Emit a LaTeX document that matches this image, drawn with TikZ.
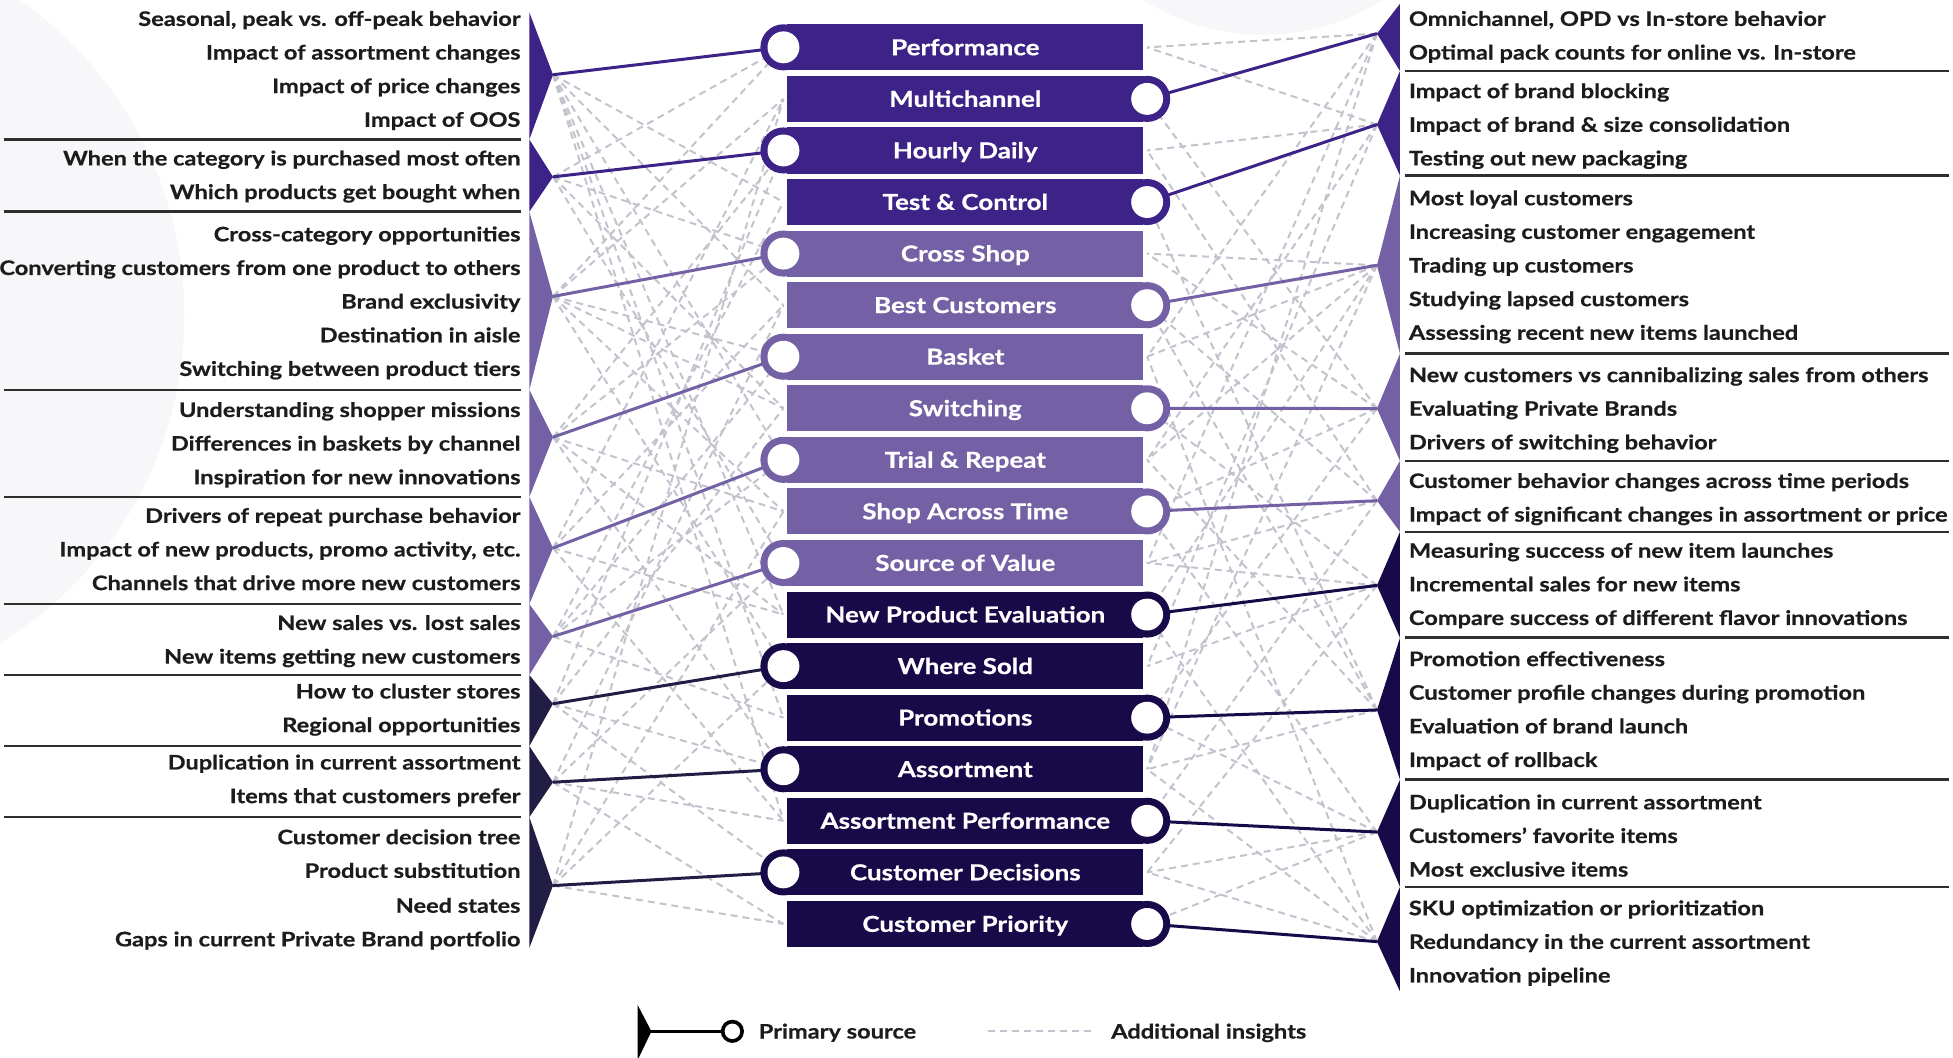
\documentclass[tikz,border=0pt]{standalone}
\usepackage{fontspec}
\setmainfont{Lato}[FakeStretch=1.18,BoldFeatures={FakeBold=0.6}]
\begin{document}
\begin{tikzpicture}[x=1.2455pt,y=-1.2455pt,
  lefttxt/.style={anchor=east,inner sep=0pt,text=txt,font=\fontsize{20}{24}\selectfont\bfseries,text height=14.4pt,text depth=0pt},
  righttxt/.style={anchor=west,inner sep=0pt,text=txt,font=\fontsize{20}{24}\selectfont\bfseries,text height=14.4pt,text depth=0pt},
  boxlabel/.style={inner sep=0pt,text=white,font=\fontsize{22}{26}\selectfont\bfseries,text height=15.8pt,text depth=0pt},
  sepline/.style={draw=sepc,line width=2.5pt},
  extra/.style={draw=dashc,line width=2pt,dash pattern=on 7pt off 5pt},
  prim/.style={draw=#1,line width=3pt},
]
\definecolor{cA}{HTML}{3D2287}
\definecolor{cB}{HTML}{7461A5}
\definecolor{cC}{HTML}{180A48}
\definecolor{cL}{HTML}{221D45}
\definecolor{txt}{HTML}{1C1C1C}
\definecolor{sepc}{HTML}{2E2E2E}
\definecolor{dashc}{HTML}{C2C3CD}
\definecolor{bgc}{HTML}{F7F7FA}

\useasboundingbox (0,0) rectangle (1568,849);

% faint backdrop discs
\begin{scope}
  \clip (0,0) rectangle (1568,849);
  \fill[bgc] (-160,253) circle (308);
  \fill[bgc] (1014,-151) circle (179);
\end{scope}

% anchor points on both sides of each analysis bar
\foreach \i in {1,...,18}{
  \pgfmathsetmacro\yy{38+(\i-1)*41.4}
  \coordinate (lc\i) at (629,\yy);
  \coordinate (rc\i) at (921,\yy);
}

% bracket tips
\foreach \k/\ty in {1/60,2/142,3/238,4/351,5/440,6/511,7/565,8/628,9/711}
  \coordinate (lt\k) at (444,\ty);
\foreach \k/\ty in {1/27,2/100,3/213,4/328,5/402,6/470,7/570,8/668,9/756}
  \coordinate (rt\k) at (1105.5,\ty);

% left-hand question lists
\foreach \y/\t in {15/{Seasonal, peak vs. off-peak behavior},42/Impact of assortment changes,69/Impact of price changes,96/Impact of OOS,
  127/When the category is purchased most often,154/Which products get bought when,
  188/Cross-category opportunities,215/Converting customers from one product to others,242/Brand exclusivity,269/Destination in aisle,296/Switching between product tiers,
  329/Understanding shopper missions,356/Differences in baskets by channel,383/Inspiration for new innovations,
  414/Drivers of repeat purchase behavior,441/{Impact of new products, promo activity, etc.},468/Channels that drive more new customers,
  500/New sales vs. lost sales,527/New items getting new customers,
  555/How to cluster stores,582/Regional opportunities,
  612/Duplication in current assortment,639/Items that customers prefer,
  672/Customer decision tree,699/Product substitution,727/Need states,754/Gaps in current Private Brand portfolio}
  \node[lefttxt] at (418,\y) {\t};
\foreach \y in {112,170,313,399,485,542,599,656}
  \draw[sepline] (3,\y) -- (418,\y);

% right-hand question lists
\foreach \y/\t in {15/{Omnichannel, OPD vs In-store behavior},42/Optimal pack counts for online vs. In-store,
  73/Impact of brand blocking,100/Impact of brand \& size consolidation,127/Testing out new packaging,
  159/Most loyal customers,186/Increasing customer engagement,213/Trading up customers,240/Studying lapsed customers,267/Assessing recent new items launched,
  301/New customers vs cannibalizing sales from others,328/Evaluating Private Brands,355/Drivers of switching behavior,
  386/Customer behavior changes across time periods,413/Impact of significant changes in assortment or price,
  442/Measuring success of new item launches,469/Incremental sales for new items,496/Compare success of different flavor innovations,
  529/Promotion effectiveness,556/Customer profile changes during promotion,583/Evaluation of brand launch,610/Impact of rollback,
  644/Duplication in current assortment,671/Customers’ favorite items,698/Most exclusive items,
  729/SKU optimization or prioritization,756/Redundancy in the current assortment,783/Innovation pipeline}
  \node[righttxt] at (1131,\y) {\t};
\foreach \y in {57,141,284,370,427,512,626,712}
  \draw[sepline] (1128,\y) -- (1565,\y);

% additional insight links
\foreach \k/\r in {1/4,1/6,1/9,1/12,1/14,1/16,
  2/1,2/5,2/8,2/11,
  3/1,3/2,3/7,3/8,3/10,3/13,
  4/3,4/5,4/10,4/12,4/15,
  5/2,5/6,5/12,5/16,
  6/4,6/7,6/9,6/14,
  7/3,7/8,7/15,7/17,
  8/6,8/11,8/16,8/18,
  9/2,9/10,9/13,9/18}
  \draw[extra] (lt\k) -- (lc\r);
\foreach \k/\r in {1/1,1/7,1/11,1/15,
  2/1,2/3,2/9,2/13,
  3/5,3/7,3/9,3/12,3/15,
  4/2,4/5,4/10,4/14,
  5/3,5/6,5/11,5/16,
  6/8,6/11,6/13,6/17,
  7/4,7/6,7/9,7/15,
  8/10,8/14,8/17,8/18,
  9/7,9/12,9/15,9/17}
  \draw[extra] (rt\k) -- (rc\r);

% primary source links
\foreach \k/\r/\c in {1/1/cA,2/3/cA,3/5/cB,4/7/cB,5/9/cB,6/11/cB,7/13/cL,8/15/cL,9/17/cL}
  \draw[prim=\c] (lt\k) -- (lc\r);
\foreach \k/\r/\c in {1/2/cA,2/4/cA,3/6/cB,4/8/cB,5/10/cB,6/12/cC,7/14/cC,8/16/cC,9/18/cC}
  \draw[prim=\c] (rt\k) -- (rc\r);

% brackets
\foreach \k/\a/\b/\c in {1/10/112/cA,2/112/170/cA,3/170/313/cB,4/313/399/cB,5/399/485/cB,6/485/542/cB,7/542/599/cL,8/599/656/cL,9/656/761/cL}
  \fill[\c] (425,\a) -- (lt\k) -- (425,\b) -- cycle;
\foreach \k/\a/\b/\c in {1/3/57/cA,2/57/141/cA,3/141/284/cB,4/284/370/cB,5/370/427/cB,6/427/512/cC,7/512/626/cC,8/626/712/cC,9/712/796/cC}
  \fill[\c] (1124,\a) -- (rt\k) -- (1124,\b) -- cycle;

% analysis bars
\foreach \i/\lab/\c in {1/Performance/cA,2/Multichannel/cA,3/Hourly Daily/cA,4/Test \& Control/cA,
  5/Cross Shop/cB,6/Best Customers/cB,7/Basket/cB,8/Switching/cB,9/Trial \& Repeat/cB,10/Shop Across Time/cB,11/Source of Value/cB,
  12/New Product Evaluation/cC,13/Where Sold/cC,14/Promotions/cC,15/Assortment/cC,16/Assortment Performance/cC,17/Customer Decisions/cC,18/Customer Priority/cC}{
  \pgfmathsetmacro\yy{38+(\i-1)*41.4}
  \pgfmathtruncatemacro\odd{mod(\i,2)}
  \ifnum\odd=1 \def\cx{629}\else\def\cx{921}\fi
  \fill[\c] (632,\yy-18.5) rectangle (918,\yy+18.5);
  \fill[\c] (\cx,\yy) circle (18.5);
  \fill[white] (\cx,\yy) circle (12.8);
  \node[boxlabel] (bar\i) at (775,\yy) {\lab};
}

% legend
\coordinate (legtip) at (523,828);
\coordinate (legdot) at (588,828);
\coordinate (dashA) at (793,828);
\coordinate (dashB) at (877,828);
\fill[black] (512,807) -- (legtip) -- (512,851) -- cycle;
\draw[black,line width=3pt] (legtip) -- (legdot);
\fill[black] (legdot) circle (9.3);
\fill[white] (legdot) circle (6.2);
\node[righttxt] (legA) at (609,828) {Primary source};
\draw[extra] (dashA) -- (dashB);
\node[righttxt] (legB) at (892,828) {Additional insights};
\end{tikzpicture}
\end{document}
